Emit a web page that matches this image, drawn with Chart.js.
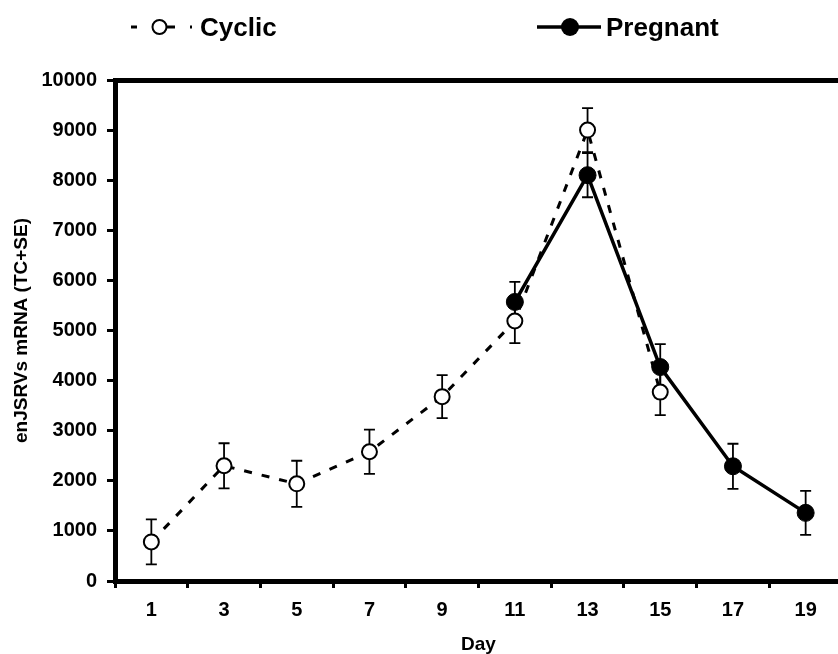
<!DOCTYPE html>
<html>
<head>
<meta charset="utf-8">
<script src="https://cdn.jsdelivr.net/npm/chart.js@4"></script>
<style>
  html, body { margin: 0; padding: 0; background: #fff; }
  body { width: 838px; height: 654px; overflow: hidden; position: relative; }
  #wrap { position: absolute; left: 0; top: 0; width: 852px; height: 654px; }
  #legend { position: absolute; left: 0; top: 0; width: 838px; height: 60px; pointer-events: none; }
  .lg { position: absolute; top: 14px; font: bold 26px/26px "Liberation Sans", Arial, sans-serif; color: #000; white-space: nowrap; }
</style>
</head>
<body>
<div id="wrap"><canvas id="c" width="852" height="654"></canvas></div>
<svg id="legend" width="838" height="60">
  <line x1="131" y1="27" x2="137" y2="27" stroke="#000" stroke-width="3"/>
  <line x1="167" y1="27" x2="175" y2="27" stroke="#000" stroke-width="3"/>
  <line x1="190" y1="27" x2="192" y2="27" stroke="#000" stroke-width="3"/>
  <circle cx="159.5" cy="27" r="7" fill="#fff" stroke="#000" stroke-width="2"/>
  <line x1="537" y1="27" x2="601" y2="27" stroke="#000" stroke-width="3.5"/>
  <circle cx="570" cy="27" r="9" fill="#000"/>
</svg>
<div class="lg" style="left:200px">Cyclic</div>
<div class="lg" style="left:606px">Pregnant</div>
<script>
// ---- data ----
const cyclicDays = [1, 3, 5, 7, 9, 11, 13, 15];
const cyclicMean = [780, 2300, 1940, 2580, 3680, 5190, 9000, 3770];
const cyclicSE   = [450, 450, 460, 440, 430, 440, 440, 460];

const pregnantDays = [11, 13, 15, 17, 19];
const pregnantMean = [5570, 8100, 4270, 2290, 1360];
const pregnantSE   = [400, 440, 460, 450, 440];

const xLabelDays = [1, 3, 5, 7, 9, 11, 13, 15, 17, 19];
const xTickMarkDays = [0, 2, 4, 6, 8, 10, 12, 14, 16, 18, 20];
const yTicks = [0, 1000, 2000, 3000, 4000, 5000, 6000, 7000, 8000, 9000, 10000];

const FONT = '"Liberation Sans", Arial, sans-serif';

const toPoints = (xs, ys) => xs.map((x, i) => ({ x: x, y: ys[i] }));

const errorBars = {
  id: 'errorBars',
  beforeDatasetsDraw(chart) {
    const { ctx } = chart;
    const xs = chart.scales.x, ys = chart.scales.y;
    ctx.save();
    ctx.strokeStyle = '#000';
    ctx.lineWidth = 1.8;
    chart.data.datasets.forEach(ds => {
      ds.data.forEach((p, i) => {
        const e = ds.errors[i];
        const px = xs.getPixelForValue(p.x);
        const t = ys.getPixelForValue(p.y + e);
        const b = ys.getPixelForValue(p.y - e);
        ctx.beginPath();
        ctx.moveTo(px, t); ctx.lineTo(px, b);
        ctx.moveTo(px - 5.5, t); ctx.lineTo(px + 5.5, t);
        ctx.moveTo(px - 5.5, b); ctx.lineTo(px + 5.5, b);
        ctx.stroke();
      });
    });
    ctx.restore();
  }
};

new Chart(document.getElementById('c'), {
  type: 'line',
  data: {
    datasets: [
      {
        label: 'Pregnant',
        data: toPoints(pregnantDays, pregnantMean),
        errors: pregnantSE,
        borderColor: '#000',
        borderWidth: 3.5,
        pointRadius: 8.5,
        pointBackgroundColor: '#000',
        pointBorderColor: '#000',
        pointBorderWidth: 1,
        tension: 0,
        fill: false
      },
      {
        label: 'Cyclic',
        data: toPoints(cyclicDays, cyclicMean),
        errors: cyclicSE,
        borderColor: '#000',
        borderWidth: 3,
        borderDash: [8, 10],
        pointRadius: 7.5,
        pointBackgroundColor: '#fff',
        pointBorderColor: '#000',
        pointBorderWidth: 2,
        tension: 0,
        fill: false
      }
    ]
  },
  options: {
    responsive: false,
    devicePixelRatio: 1,
    animation: false,
    layout: { padding: { top: 80, right: 5, left: 0, bottom: 0 } },
    plugins: { legend: { display: false }, tooltip: { enabled: false } },
    scales: {
      x: {
        type: 'linear',
        position: 'bottom',
        min: 0, max: 20,
        afterBuildTicks: s => { s.ticks = xTickMarkDays.concat(xLabelDays).sort((a, b) => a - b).map(v => ({ value: v })); },
        afterFit: s => { s.height = 73; },
        ticks: {
          autoSkip: false, maxRotation: 0, padding: 10, color: '#000',
          font: { family: FONT, size: 20, weight: 'bold' },
          callback: v => (xLabelDays.includes(v) ? String(v) : '')
        },
        grid: {
          drawOnChartArea: false, drawTicks: true, tickLength: 7, tickWidth: 3,
          tickColor: c => (c.tick && xTickMarkDays.includes(c.tick.value) ? '#000' : 'rgba(0,0,0,0)')
        },
        border: { display: true, color: '#000', width: 5 },
        title: {
          display: true, text: 'Day', color: '#000',
          font: { family: FONT, size: 19, weight: 'bold', lineHeight: 1 },
          padding: { top: 0, bottom: 0 }
        }
      },
      xTop: {
        type: 'linear',
        position: 'top',
        min: 0, max: 20,
        afterFit: s => { s.height = 0; },
        ticks: { display: false },
        grid: { display: false, drawTicks: false },
        border: { display: true, color: '#000', width: 5 }
      },
      y: {
        type: 'linear',
        position: 'left',
        min: 0, max: 10000,
        afterBuildTicks: s => { s.ticks = yTicks.map(v => ({ value: v })); },
        afterFit: s => { s.width = 115; },
        ticks: {
          padding: 10, color: '#000',
          font: { family: FONT, size: 20, weight: 'bold' },
          callback: v => String(v)
        },
        grid: { drawOnChartArea: false, drawTicks: true, tickLength: 8, tickWidth: 3, tickColor: '#000' },
        border: { display: true, color: '#000', width: 5 },
        title: {
          display: true, text: 'enJSRVs mRNA (TC+SE)', color: '#000',
          font: { family: FONT, size: 19, weight: 'bold' },
          padding: { top: 10, bottom: 0 }
        }
      }
    }
  },
  plugins: [errorBars]
});
</script>
</body>
</html>
